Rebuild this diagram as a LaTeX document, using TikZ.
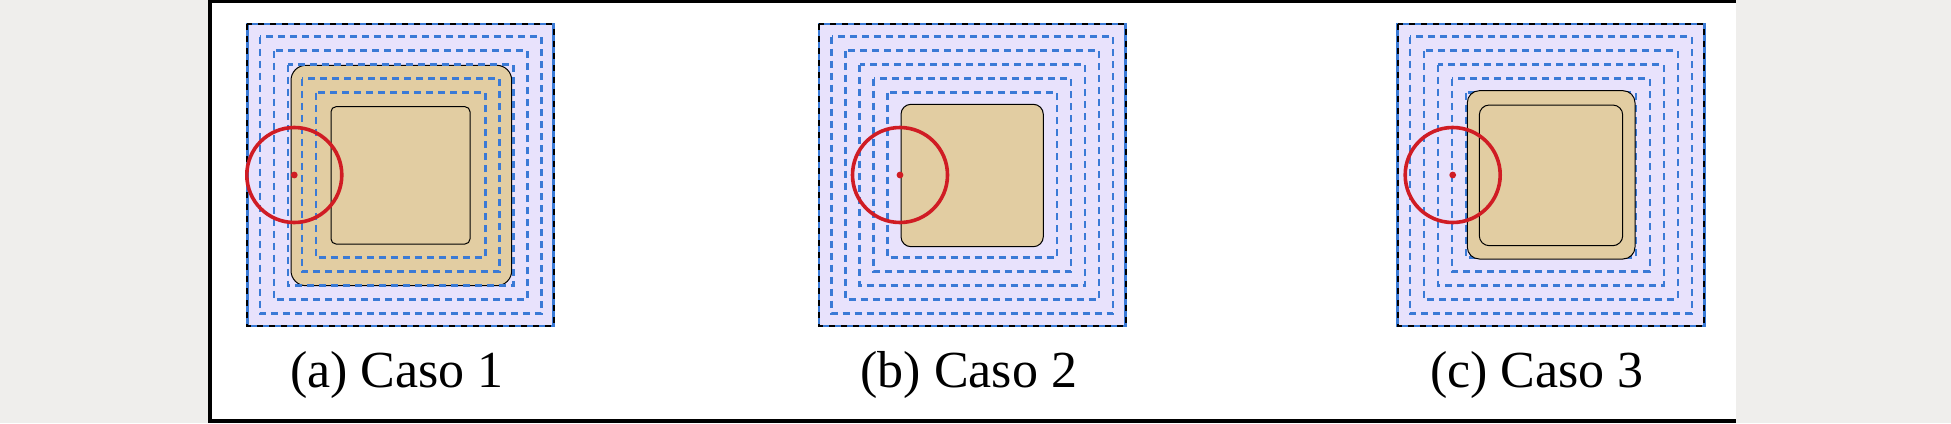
\documentclass[tikz,border=0pt]{standalone}
\usepackage{fontspec}
\setmainfont{Liberation Serif}
\newfontfamily\capfont{Liberation Serif}
\definecolor{bggray}{RGB}{239,238,236}
\definecolor{lav}{RGB}{232,226,252}
\definecolor{tanfill}{RGB}{226,205,162}
\definecolor{ringblue}{RGB}{58,122,214}
\definecolor{cred}{RGB}{208,28,36}
\tikzset{
 ring/.style={draw=ringblue, line width=2.4pt, dash pattern=on 7pt off 5pt},
 outerline/.style={draw=ringblue, line width=2.8pt},
 outerdash/.style={draw=black, line width=2pt, dash pattern=on 6pt off 6pt},
 tanbox/.style={fill=tanfill, draw=black, line width=1pt},
 probe/.style={draw=cred, line width=3.6pt},
 probedot/.style={fill=cred},
 caption/.style={font=\capfont\fontsize{52}{60}\selectfont, anchor=base, inner sep=0pt},
 frameline/.style={draw=black, line width=4pt},
}
\newcommand\lavfill[1]{\fill[lav] (#1,24) rectangle ({#1+306.5},326);}
\newcommand\ringset[1]{%
 \foreach \d in {12.5,26.5,40.5,54.5,68.5} {\draw[ring] ({#1+\d},{24+\d}) rectangle ({#1+306.5-\d},{326-\d});}
 \draw[outerline] (#1,24) rectangle ({#1+306.5},326);
 \draw[outerdash] (#1,24) rectangle ({#1+306.5},326);
}
\newcommand\probeat[1]{%
 \draw[probe] (#1,175) circle[radius=47.5];
 \fill[probedot] (#1,175) circle[radius=3.4];
}
\begin{document}
\begin{tikzpicture}[x=1pt,y=-1pt]
\useasboundingbox (0,0) rectangle (1951,423);
\fill[bggray] (0,0) rectangle (1951,423);
\fill[white] (208,0) rectangle (1736,423);
\draw[frameline] (210,0) -- (210,423);
\draw[frameline, line width=3pt] (208,1) -- (1736,1);
\draw[frameline] (208,421) -- (1736,421);
% panel a
\lavfill{247.3}
\draw[tanbox, rounded corners=15pt] (291,65.3) rectangle (511.7,285.7);
\ringset{247.3}
\draw[tanbox, rounded corners=5pt] (331,106.7) rectangle (470,244);
\probeat{294.3}
\node[caption] (capa) at (397,387) {(a) Caso 1};
% panel b
\lavfill{819}
\ringset{819}
\draw[tanbox, rounded corners=10pt] (901,104.3) rectangle (1043.3,246.7);
\probeat{900}
\node[caption] (capb) at (968.7,387) {(b) Caso 2};
% panel c
\lavfill{1397.7}
\ringset{1397.7}
\draw[tanbox, rounded corners=12pt] (1467.3,90.7) rectangle (1635,259);
\draw[tanbox, rounded corners=10pt] (1479.3,105) rectangle (1622.7,245.7);
\probeat{1452.7}
\node[caption] (capc) at (1537,387) {(c) Caso 3};
\end{tikzpicture}
\end{document}
